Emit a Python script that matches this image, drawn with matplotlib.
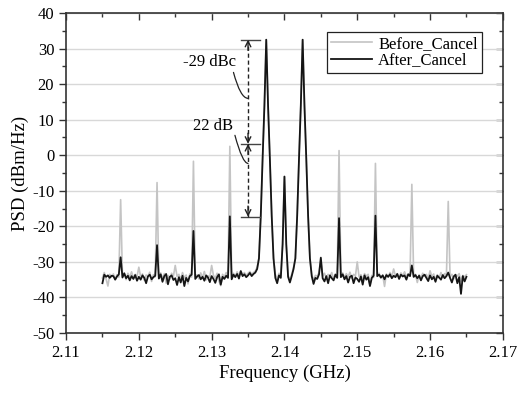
import numpy as np
import matplotlib
matplotlib.use("Agg")
import matplotlib.pyplot as plt
from matplotlib.ticker import MultipleLocator

plt.rcParams['font.family'] = ['Liberation Serif', 'DejaVu Serif']
plt.rcParams['mathtext.fontset'] = 'stix'

# Frequency axis (GHz), 201 samples from 2.115 to 2.165
freq = np.linspace(2.115, 2.165, 201)

before_cancel = [
    -34.5, -33.0, -34.8, -36.8, -33.5, -34.2, -33.4, -34.9, -33.6, -34.3,
    -12.5, -34.0, -33.3, -35.0, -33.2, -34.4, -32.8, -34.6, -33.5, -34.1,
    -31.5, -34.3, -33.4, -35.2, -33.7, -34.0, -32.9, -35.5, -33.6, -34.2,
    -7.7, -34.5, -33.1, -34.7, -33.3, -36.0, -33.8, -34.9, -33.2, -34.0,
    -31.0, -34.1, -33.5, -35.0, -33.0, -34.6, -33.7, -36.2, -33.4, -34.3,
    -1.7, -34.2, -33.6, -34.8, -33.1, -34.5, -32.7, -35.1, -33.9, -34.3,
    -31.0, -33.8, -34.6, -33.2, -35.4, -36.7, -33.5, -34.2, -33.0, -34.0,
    2.5, -34.4, -33.2, -34.0, -32.8, -33.9, -32.5, -33.6, -33.0, -33.8,
    -33.2, -32.7, -33.5, -33.0, -32.6, -31.5, -29.0, -17.0, -1.0, 14.0,
    32.5, 14.0, -1.0, -17.0, -29.0, -33.5, -35.0, -33.2, -34.0, -25.0,
    -6.0, -25.0, -33.8, -35.0, -33.5, -31.5, -29.0, -17.0, -1.0, 14.0,
    32.5, 14.0, -1.0, -17.0, -29.0, -33.5, -35.2, -33.8, -34.0, -33.0,
    -29.5, -34.0, -33.2, -34.6, -33.5, -34.1, -33.0, -34.8, -33.4, -34.0,
    1.3, -33.9, -33.1, -34.5, -33.3, -34.2, -32.9, -34.6, -33.5, -34.0,
    -30.0, -34.2, -33.6, -35.1, -33.3, -34.0, -33.5, -36.5, -33.8, -34.4,
    -2.3, -34.1, -33.2, -34.6, -33.7, -36.9, -33.4, -34.3, -33.0, -34.1,
    -32.0, -34.0, -33.3, -34.5, -33.1, -33.9, -32.8, -34.2, -33.4, -34.0,
    -8.2, -34.3, -33.5, -35.8, -33.6, -34.4, -33.2, -34.0, -33.5, -34.7,
    -32.5, -34.1, -33.4, -35.0, -33.6, -34.5, -33.0, -34.4, -33.3, -34.0,
    -13.0, -34.2, -33.5, -34.8, -33.7, -34.0, -33.3, -35.5, -33.8, -34.2,
    -33.6,
]

after_cancel = [
    -36.0, -33.6, -34.2, -33.8, -34.5, -33.9, -34.0, -35.0, -34.1, -33.5,
    -28.7, -34.4, -33.2, -34.6, -33.9, -35.2, -34.0, -34.8, -33.7, -35.3,
    -34.2, -35.0, -33.8, -34.5, -36.0, -34.1, -33.6, -34.9, -34.3, -33.9,
    -25.3, -34.7, -33.5, -35.6, -34.0, -33.4, -36.3, -34.2, -33.8, -35.1,
    -34.6, -36.5, -34.3, -35.8, -33.9, -36.8, -34.5, -35.5, -34.0, -33.6,
    -21.3, -34.8, -34.1, -33.7, -34.9, -34.2, -35.3, -33.8, -34.4, -35.7,
    -34.0, -34.8, -35.9, -34.3, -33.5, -36.4, -34.2, -34.8, -33.9, -34.5,
    -17.2, -34.9, -33.6, -34.3, -33.4, -34.7, -32.6, -34.0, -33.5, -34.3,
    -33.8, -33.1, -34.0, -33.4, -33.0, -32.0, -29.0, -17.0, -1.0, 14.0,
    32.5, 14.0, -1.0, -17.0, -29.0, -34.5, -36.0, -33.8, -34.5, -25.0,
    -6.0, -25.0, -34.2, -35.8, -34.0, -32.0, -29.0, -17.0, -1.0, 14.0,
    32.5, 14.0, -1.0, -17.0, -29.0, -34.0, -36.2, -34.5, -34.8, -33.5,
    -28.8, -34.6, -35.5, -34.0, -36.0, -33.8, -34.6, -35.2, -33.6, -34.5,
    -17.7, -34.3, -33.5, -34.9, -34.0, -35.8, -34.2, -33.9, -36.0, -34.4,
    -34.8, -35.6, -34.1, -36.4, -33.8, -35.0, -34.3, -36.8, -34.5, -33.9,
    -17.0, -34.0, -33.6, -34.4, -33.8, -34.9, -33.7, -34.2, -33.5, -34.6,
    -33.9, -34.3, -33.4, -34.8, -33.6, -34.1, -33.8, -35.0, -33.5, -34.0,
    -31.0, -34.2, -33.7, -34.6, -33.9, -35.2, -34.0, -33.6, -34.5, -35.4,
    -33.8, -34.9, -34.2, -35.6, -33.9, -34.4, -35.0, -33.7, -34.6, -34.0,
    -33.0, -34.5, -35.8, -34.1, -33.6, -36.0, -34.3, -39.0, -34.0, -35.5,
    -34.2,
]

series_labels = ["Before_Cancel", "After_Cancel"]
x_ticks = [2.11, 2.12, 2.13, 2.14, 2.15, 2.16, 2.17]
y_ticks = [-50, -40, -30, -20, -10, 0, 10, 20, 30, 40]

# annotation levels (dBm/Hz)
level_top = 32.5
level_mid = 3.2
level_bot = -17.3
marker_x = 2.135

fig = plt.figure(figsize=(5.2, 3.95), dpi=100)
ax = fig.add_axes([0.127, 0.157, 0.840, 0.810])

ax.plot(freq, before_cancel, color='#c4c4c4', lw=1.2, label=series_labels[0], zorder=2)
ax.plot(freq, after_cancel, color='#151515', lw=1.3, label=series_labels[1], zorder=3)

ax.set_xlim(2.11, 2.17)
ax.set_ylim(-50, 40)
ax.set_xticks(x_ticks)
ax.set_xticklabels([f"{v:.2f}" for v in x_ticks])
ax.set_yticks(y_ticks)
ax.set_yticklabels([f"{v:d}" for v in y_ticks])
ax.xaxis.set_minor_locator(MultipleLocator(0.005))
ax.yaxis.set_minor_locator(MultipleLocator(5))

ax.grid(axis='y', which='major', color='#d8d8d8', lw=1.0, zorder=0)
ax.set_axisbelow(True)

ax.tick_params(axis='both', which='major', direction='out', length=5, width=1.0,
               labelsize=12, color='#333333')
ax.tick_params(axis='both', which='minor', direction='out', length=3, width=1.0,
               color='#333333')
for s in ax.spines.values():
    s.set_linewidth(1.2)
    s.set_color('#333333')

# mirrored inward ticks on right and top
axr = ax.secondary_yaxis('right')
axr.set_yticks(y_ticks)
axr.yaxis.set_minor_locator(MultipleLocator(5))
axr.tick_params(which='major', direction='in', length=5, width=1.0, labelright=False, color='#333333')
axr.tick_params(which='minor', direction='in', length=3, width=1.0, color='#333333')
axr.spines['right'].set_visible(False)
axt = ax.secondary_xaxis('top')
axt.set_xticks(x_ticks)
axt.xaxis.set_minor_locator(MultipleLocator(0.005))
axt.tick_params(which='major', direction='in', length=5, width=1.0, labeltop=False, color='#333333')
axt.tick_params(which='minor', direction='in', length=3, width=1.0, color='#333333')
axt.spines['top'].set_visible(False)

ax.set_xlabel("Frequency (GHz)", fontsize=13.5, labelpad=3)
ax.set_ylabel("PSD (dBm/Hz)", fontsize=13.5, labelpad=2)

# dimension markers
for lv in (level_top, level_mid, level_bot):
    ax.plot([2.1341, 2.1366], [lv, lv], color='#444444', lw=1.0, zorder=4)
ax.plot([marker_x, marker_x], [level_bot, level_top], color='#222222', lw=1.0,
        ls=(0, (3, 2)), zorder=4)
arrow_kw = dict(arrowstyle='->', lw=1.0, color='#222222', mutation_scale=10,
                shrinkA=0, shrinkB=0)
ax.annotate('', xy=(marker_x, level_top), xytext=(marker_x, level_top - 3), arrowprops=arrow_kw)
ax.annotate('', xy=(marker_x, level_mid), xytext=(marker_x, level_mid + 3), arrowprops=arrow_kw)
ax.annotate('', xy=(marker_x, level_mid), xytext=(marker_x, level_mid - 3), arrowprops=arrow_kw)
ax.annotate('', xy=(marker_x, level_bot), xytext=(marker_x, level_bot + 3), arrowprops=arrow_kw)

ax.text(2.1334, 26.1, "-29 dBc", ha='right', va='center', fontsize=12)
ax.text(2.1330, 8.1, "22 dB", ha='right', va='center', fontsize=12)
lead_kw = dict(arrowstyle='-', lw=0.9, color='#222222', shrinkA=0, shrinkB=0,
               connectionstyle="angle3,angleA=-75,angleB=0")
ax.annotate('', xy=(marker_x, 16.0), xytext=(2.1330, 23.3), arrowprops=lead_kw)
ax.annotate('', xy=(marker_x, -2.3), xytext=(2.1332, 5.6), arrowprops=lead_kw)

leg = ax.legend(loc='upper right', bbox_to_anchor=(0.952, 0.942), borderaxespad=0,
                fontsize=12, frameon=True, fancybox=False, framealpha=1,
                edgecolor='#222222', handlelength=2.45, handletextpad=0.35,
                borderpad=0.25, labelspacing=0.05)
leg.get_frame().set_linewidth(0.9)

fig.savefig("out.png", dpi=100)
